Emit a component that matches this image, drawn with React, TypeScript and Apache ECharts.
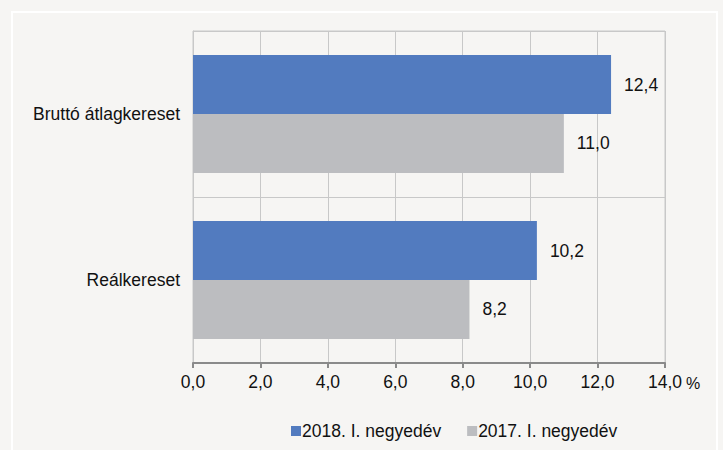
import React, { useEffect, useRef } from "react";
import * as echarts from "echarts";

const categories = ["Bruttó átlagkereset", "Reálkereset"];
const series2018 = [12.4, 10.2];
const series2017 = [11.0, 8.2];
const seriesNames = ["2018. I. negyedév", "2017. I. negyedév"];
const xTicks = { min: 0, max: 14, interval: 2 };

const FONT = "Liberation Sans, Arial, sans-serif";
const FS = 17.5;
const fmt = (v: number) => v.toFixed(1).replace(".", ",");

export default function App() {
  const ref = useRef<HTMLDivElement>(null);
  useEffect(() => {
    if (!ref.current) return;
    const chart = echarts.init(ref.current, undefined, { renderer: "svg" });
    const label = {
      show: true,
      position: "right",
      distance: 13,
      formatter: (p: any) => fmt(p.value),
      fontSize: FS,
      color: "#111",
      fontFamily: FONT,
    };
    chart.setOption({
      animation: false,
      backgroundColor: "#f6f5f3",
      textStyle: { fontFamily: FONT },
      grid: {
        left: 193,
        right: 58,
        top: 31,
        bottom: 87,
        show: true,
        borderColor: "#c8c8c8",
        borderWidth: 1,
        backgroundColor: "transparent",
      },
      legend: {
        data: seriesNames,
        bottom: 5,
        left: 286,
        itemWidth: 10,
        itemHeight: 10,
        itemGap: 26,
        icon: "rect",
        textStyle: { fontSize: FS, color: "#111", fontFamily: FONT, padding: [0, 0, 0, -4] },
      },
      xAxis: {
        type: "value",
        min: xTicks.min,
        max: xTicks.max,
        interval: xTicks.interval,
        axisLine: { show: true, lineStyle: { color: "#8a8a8a", width: 2 } },
        axisTick: { show: true, length: 5, lineStyle: { color: "#8a8a8a", width: 2 } },
        axisLabel: {
          formatter: (v: number) => fmt(v),
          fontSize: FS,
          color: "#111",
          margin: 10,
          fontFamily: FONT,
        },
        splitLine: { show: true, lineStyle: { color: "#c8c8c8", width: 1 } },
      },
      yAxis: {
        type: "category",
        data: categories,
        inverse: true,
        axisLine: { show: true, lineStyle: { color: "#c8c8c8" } },
        axisTick: { show: false },
        axisLabel: { fontSize: FS, color: "#111", margin: 13, fontFamily: FONT },
        splitLine: { show: true, lineStyle: { color: "#c8c8c8", width: 1 } },
      },
      series: [
        {
          name: seriesNames[0],
          type: "bar",
          data: series2018,
          barGap: "0%",
          barCategoryGap: "29%",
          itemStyle: { color: "#527bbf" },
          label,
        },
        {
          name: seriesNames[1],
          type: "bar",
          data: series2017,
          barGap: "0%",
          barCategoryGap: "29%",
          itemStyle: { color: "#bcbdc0" },
          label,
        },
      ],
      graphic: [
        {
          type: "rect",
          shape: { x: 12, y: 12, width: 705, height: 460 },
          style: { fill: "none", stroke: "#ffffff", lineWidth: 2 },
          silent: true,
        },
        {
          type: "text",
          x: 686,
          y: 375,
          style: { text: "%", fontSize: 16, fill: "#111", fontFamily: FONT },
        },
      ],
    });
    return () => chart.dispose();
  }, []);
  return (
    <div
      ref={ref}
      style={{ position: "fixed", left: 0, top: 0, width: 723, height: 450 }}
    />
  );
}
